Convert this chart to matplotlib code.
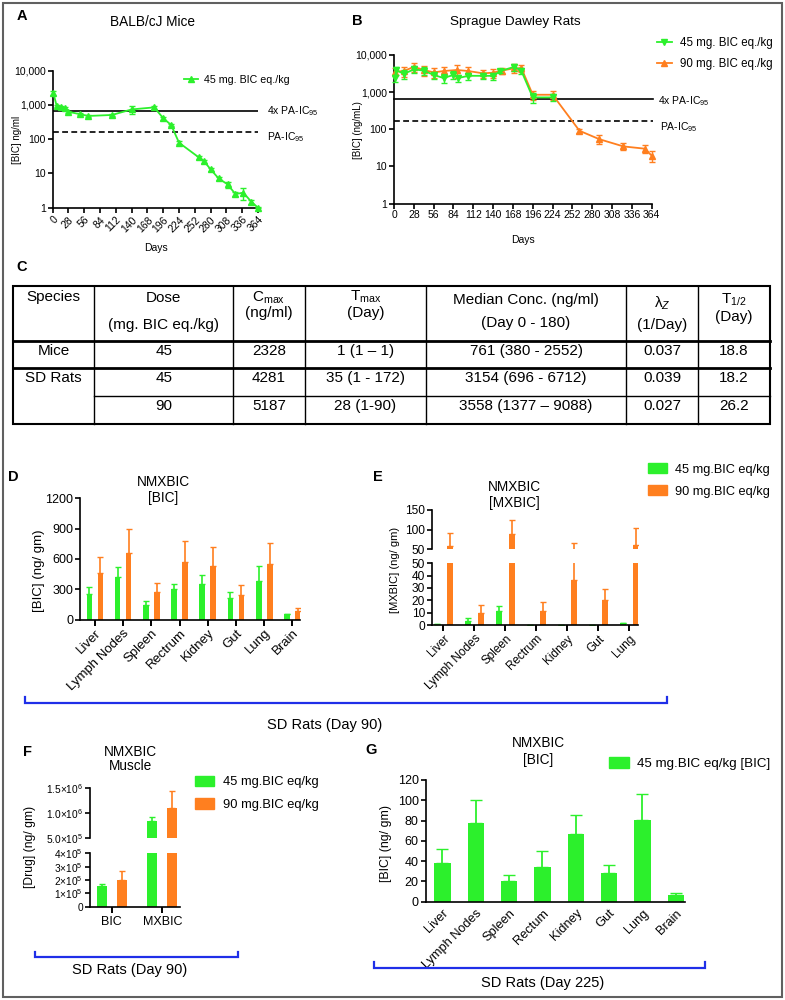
import numpy as np
import matplotlib
matplotlib.use("Agg")
import matplotlib.pyplot as plt
from matplotlib.lines import Line2D
from matplotlib.patches import Patch, Rectangle
from matplotlib import font_manager as fm

W, H = 785, 1000


def has_font(name):
    try:
        fm.findfont(fm.FontProperties(family=name), fallback_to_default=False)
        return True
    except Exception:
        return False


BASE = "Liberation Sans" if has_font("Liberation Sans") else "DejaVu Sans"
plt.rcParams["font.family"] = [BASE, "DejaVu Sans"]
plt.rcParams["mathtext.fontset"] = "custom"
plt.rcParams["mathtext.rm"] = BASE
plt.rcParams["mathtext.it"] = BASE + ":italic"
plt.rcParams["mathtext.bf"] = BASE + ":bold"
plt.rcParams["axes.linewidth"] = 1.2

GREEN = "#2cf02c"
ORANGE = "#ff7f1f"
BLUE = "#1f2fe8"

# ---- A: BALB/cJ mice, 45 mg BIC eq./kg
mice_days = [1, 7, 14, 21, 28, 49, 63, 105, 140, 180, 196, 210, 224, 259, 268, 280, 294, 310, 324, 338, 352, 364]
mice_conc = [2300, 940, 850, 795, 630, 535, 477, 510, 740, 850, 410, 260, 79, 29.5, 23, 13.2, 7.2, 4.8, 2.5, 2.75, 1.5, 1.0]
mice_err = [300, 80, 70, 60, 50, 40, 40, 40, 200, 80, 40, 25, 8, 3, 2.5, 1.5, 0.8, 1.0, 0.3, 1.1, 0.2, 0.05]

# ---- B: SD rats
rat45_days = [1, 3, 14, 28, 42, 56, 70, 84, 91, 105, 126, 140, 150, 170, 180, 196, 224]
rat45_conc = [2350, 3900, 3100, 4100, 3800, 2900, 2400, 2900, 2400, 2750, 2750, 2750, 3700, 4800, 3700, 720, 720]
rat45_err = [500, 1000, 800, 900, 900, 600, 600, 700, 500, 600, 500, 600, 500, 1000, 700, 200, 150]
rat90_days = [1, 14, 28, 42, 56, 70, 89, 105, 126, 140, 152, 170, 180, 196, 224, 262, 290, 324, 354, 364]
rat90_conc = [3550, 3700, 4800, 3950, 3400, 3700, 3950, 3700, 3200, 3350, 3800, 4400, 4400, 850, 850, 91, 54, 34.5, 30, 19.5]
rat90_err = [900, 1100, 1300, 1200, 1000, 1200, 1500, 1000, 800, 900, 800, 1200, 1000, 250, 250, 12, 14, 7, 7, 6]

ic95_4x = 650
ic95 = 165
day_ticks = list(range(0, 365, 28))
log_ticks = [1, 10, 100, 1000, 10000]
log_labels = ["1", "10", "100", "1,000", "10,000"]

# ---- C: PK table
tbl_head1 = ["Species", "Dose", "C$_{\\mathrm{max}}$", "T$_{\\mathrm{max}}$", "Median Conc. (ng/ml)", "λ$_Z$", "T$_{1/2}$"]
tbl_head2 = ["", "(mg. BIC eq./kg)", "(ng/ml)", "(Day)", "(Day 0 - 180)", "(1/Day)", "(Day)"]
tbl_species = ["Mice", "SD Rats", ""]
tbl_dose = ["45", "45", "90"]
tbl_cmax = ["2328", "4281", "5187"]
tbl_tmax = ["1 (1 – 1)", "35 (1 - 172)", "28 (1-90)"]
tbl_median = ["761 (380 - 2552)", "3154 (696 - 6712)", "3558 (1377 – 9088)"]
tbl_lambda = ["0.037", "0.039", "0.027"]
tbl_thalf = ["18.8", "18.2", "26.2"]

# ---- D: [BIC] tissues day 90
tissues_d = ["Liver", "Lymph Nodes", "Spleen", "Rectrum", "Kidney", "Gut", "Lung", "Brain"]
d_bic_45 = [251, 417, 142, 301, 350, 215, 383, 50]
d_bic_45_sd = [73, 105, 43, 46, 86, 56, 146, 8]
d_bic_90 = [456, 655, 271, 565, 529, 241, 549, 83]
d_bic_90_sd = [159, 241, 93, 212, 185, 103, 205, 26]

# ---- E: [MXBIC] tissues day 90
tissues_e = ["Liver", "Lymph Nodes", "Spleen", "Rectrum", "Kidney", "Gut", "Lung"]
e_mx_45 = [0.8, 3.5, 11.2, 0, 0, 0, 1.9]
e_mx_45_sd = [0, 1.8, 4.0, 0, 0, 0, 0]
e_mx_90 = [58.4, 9.9, 87.8, 11.2, 36.1, 20.0, 61.8]
e_mx_90_sd = [33.6, 6.7, 35.2, 7.8, 29.9, 9.4, 42.8]

# ---- F: muscle
f_cats = ["BIC", "MXBIC"]
f_45 = [1.55e5, 8.5e5]
f_45_sd = [0.13e5, 0.8e5]
f_90 = [2.0e5, 1.1e6]
f_90_sd = [0.68e5, 0.35e6]

# ---- G: [BIC] tissues day 225
tissues_g = ["Liver", "Lymph Nodes", "Spleen", "Rectum", "Kidney", "Gut", "Lung", "Brain"]
g_bic_45 = [37.8, 77.3, 20.1, 34.5, 66.4, 27.9, 80.5, 6.6]
g_bic_45_sd = [14.5, 23.3, 6.5, 15.1, 19.1, 8.6, 25.7, 2.3]

fig = plt.figure(figsize=(W / 100, H / 100), dpi=100)


def add_ax(l, t, r, b):
    return fig.add_axes([l / W, 1 - b / H, (r - l) / W, (b - t) / H])


def ftext(x, y, s, **kw):
    kw.setdefault("ha", "center")
    kw.setdefault("va", "center")
    fig.text(x / W, 1 - y / H, s, **kw)


def fline(xs, ys, **kw):
    fig.add_artist(Line2D([x / W for x in xs], [1 - y / H for y in ys], **kw))


def style(ax, fs):
    for s in ["top", "right"]:
        ax.spines[s].set_visible(False)
    ax.tick_params(direction="out", length=3.5, width=1.2, labelsize=fs, pad=1.5, colors="black")


def bracket(x0, x1, y, up=6):
    fline([x0, x0, x1, x1], [y - up, y, y, y - up], color=BLUE, lw=1.6, solid_joinstyle="miter")


# outer frame
fig.add_artist(Rectangle((3 / W, 3 / H), 779 / W, 994 / H, fill=False, ec="#606060", lw=1.5))

# ================= A
axA = add_ax(52.7, 70.7, 258, 207.7)
axA.set_yscale("log")
axA.axhline(ic95_4x, color="black", lw=1.2)
axA.axhline(ic95, color="black", lw=1.2, ls=(0, (3.5, 2)))
axA.errorbar(mice_days, mice_conc, yerr=mice_err, color=GREEN, marker="^", ms=4, lw=1.3,
             capsize=2, elinewidth=1, clip_on=False, zorder=3)
axA.set_ylim(1, 10000)
axA.set_xlim(0, 364)
axA.set_yticks(log_ticks)
axA.set_yticklabels(log_labels)
axA.minorticks_off()
axA.set_xticks(day_ticks)
axA.set_xticklabels(day_ticks, rotation=45, ha="right", rotation_mode="anchor")
style(axA, 7.5)
ftext(156, 248, "Days", fontsize=7.5)
ftext(17, 140, "[BIC] ng/ml", fontsize=7, rotation=90)
ftext(267, 111, "4x PA-IC$_{95}$", fontsize=7.5, ha="left")
ftext(267, 137, "PA-IC$_{95}$", fontsize=7.5, ha="left")
ftext(152, 22, "BALB/cJ Mice", fontsize=9.8)
ftext(22, 16, "A", fontsize=10.5, fontweight="bold")
fig.legend([Line2D([], [], color=GREEN, marker="^", ms=4, lw=1.3)], ["45 mg. BIC eq./kg"],
           loc="center left", bbox_to_anchor=(184 / W, 1 - 80 / H), frameon=False, fontsize=7.7,
           handlelength=1.3, handletextpad=0.6, borderpad=0, borderaxespad=0)

# ================= B
axB = add_ax(394, 55, 651.7, 203.5)
axB.set_yscale("log")
axB.axhline(ic95_4x, color="black", lw=1.2, xmax=1.005, clip_on=False)
axB.axhline(ic95, color="black", lw=1.2, ls=(0, (3.5, 2)), xmax=1.005, clip_on=False)
axB.errorbar(rat90_days, rat90_conc, yerr=rat90_err, color=ORANGE, marker="^", ms=4, lw=1.3,
             capsize=2.2, elinewidth=1, clip_on=False, zorder=3)
axB.errorbar(rat45_days, rat45_conc, yerr=rat45_err, color=GREEN, marker="v", ms=5, lw=1.3,
             capsize=2.2, elinewidth=1, clip_on=False, zorder=4)
axB.set_ylim(1, 10000)
axB.set_xlim(0, 364)
axB.set_yticks(log_ticks)
axB.set_yticklabels(log_labels)
axB.minorticks_off()
axB.set_xticks(day_ticks)
style(axB, 7.5)
ftext(523, 240, "Days", fontsize=7.5)
ftext(358, 130, "[BIC] (ng/mL)", fontsize=7, rotation=90)
ftext(658, 101, "4x PA-IC$_{95}$", fontsize=7.5, ha="left")
ftext(660, 127, "PA-IC$_{95}$", fontsize=7.5, ha="left")
ftext(515, 22, "Sprague Dawley Rats", fontsize=9.7)
ftext(357, 21, "B", fontsize=10.5, fontweight="bold")
fig.legend([Line2D([], [], color=GREEN, marker="v", ms=5, lw=1.3),
            Line2D([], [], color=ORANGE, marker="^", ms=4, lw=1.3)],
           ["45 mg. BIC eq./kg", "90 mg. BIC eq./kg"],
           loc="center left", bbox_to_anchor=(657 / W, 1 - 53.5 / H), frameon=False, fontsize=8.3,
           handlelength=1.3, handletextpad=0.7, labelspacing=0.75, borderpad=0, borderaxespad=0)

# ================= C table
ftext(22, 267, "C", fontsize=10.5, fontweight="bold")
col_edges = [13.3, 94.3, 233, 305, 426, 626, 698, 770]
row_edges = [286, 340.7, 367.7, 396, 424.3]
fig.add_artist(Rectangle((13.3 / W, 1 - 424.3 / H), (770 - 13.3) / W, (424.3 - 286) / H,
                         fill=False, ec="black", lw=1.5))
for x in col_edges[1:-1]:
    fline([x, x], [286, 424.3], color="black", lw=1)
fline([13.3, 770], [340.7, 340.7], color="black", lw=2)
fline([13.3, 770], [367.7, 367.7], color="black", lw=2)
fline([94.3, 770], [396, 396], color="black", lw=1)
col_mid = [(a + b) / 2 for a, b in zip(col_edges[:-1], col_edges[1:])]
head1_y = [297, 298, 298, 297, 300, 303, 300]
head2_y = [0, 325, 313, 313, 323, 325, 317]
TFS = 11
for i in range(7):
    ftext(col_mid[i], head1_y[i], tbl_head1[i], fontsize=TFS)
    if tbl_head2[i]:
        ftext(col_mid[i], head2_y[i], tbl_head2[i], fontsize=TFS)
body_y = [351, 378, 406]
for r in range(3):
    row = [tbl_species[r], tbl_dose[r], tbl_cmax[r], tbl_tmax[r], tbl_median[r], tbl_lambda[r], tbl_thalf[r]]
    for i, s in enumerate(row):
        if s:
            ftext(col_mid[i], body_y[r], s, fontsize=TFS)

# ================= D
axD = add_ax(80, 498.3, 300, 619.5)
xd = np.arange(len(tissues_d))
off, bw = 0.195, 0.2
axD.bar(xd - off, d_bic_45, bw, color=GREEN)
axD.bar(xd + off, d_bic_90, bw, color=ORANGE)
axD.errorbar(xd - off, d_bic_45, yerr=[np.zeros(len(xd)), d_bic_45_sd], fmt="none", ecolor=GREEN,
             elinewidth=1.2, capsize=2)
axD.errorbar(xd + off, d_bic_90, yerr=[np.zeros(len(xd)), d_bic_90_sd], fmt="none", ecolor=ORANGE,
             elinewidth=1.2, capsize=2)
axD.set_ylim(0, 1200)
axD.set_yticks([0, 300, 600, 900, 1200])
axD.set_xlim(-0.53, 7.27)
axD.set_xticks(xd)
axD.set_xticklabels(tissues_d, rotation=45, ha="right", rotation_mode="anchor")
style(axD, 9)
axD.tick_params(axis="x", length=4, width=1.4, labelsize=9.5)
ftext(163, 482, "NMXBIC", fontsize=9.8)
ftext(163, 498, "[BIC]", fontsize=9.8)
ftext(39, 571, "[BIC] (ng/ gm)", fontsize=9.5, rotation=90)
ftext(13, 477, "D", fontsize=10.5, fontweight="bold")

# ================= E (broken axis)
axE_lo = add_ax(432, 563.3, 638, 625)
axE_hi = add_ax(432, 509.7, 638, 549.3)
xe = np.arange(len(tissues_e))
off_e, bw_e = 0.2, 0.195
for ax in (axE_lo, axE_hi):
    ax.bar(xe - off_e, e_mx_45, bw_e, color=GREEN)
    ax.bar(xe + off_e, e_mx_90, bw_e, color=ORANGE)
    ax.errorbar(xe - off_e, e_mx_45, yerr=[np.zeros(len(xe)), e_mx_45_sd], fmt="none", ecolor=GREEN,
                elinewidth=1.2, capsize=2)
    ax.errorbar(xe + off_e, e_mx_90, yerr=[np.zeros(len(xe)), e_mx_90_sd], fmt="none", ecolor=ORANGE,
                elinewidth=1.2, capsize=2)
    ax.set_xlim(-0.37, 6.28)
    style(ax, 8.6)
axE_lo.set_ylim(0, 50)
axE_lo.set_yticks([0, 10, 20, 30, 40, 50])
axE_lo.set_xticks(xe)
axE_lo.set_xticklabels(tissues_e, rotation=45, ha="right", rotation_mode="anchor")
axE_lo.tick_params(axis="x", length=4, width=1.4, labelsize=8.5)
axE_hi.set_ylim(50, 150)
axE_hi.set_yticks([50, 100, 150])
axE_hi.spines["bottom"].set_visible(False)
axE_hi.tick_params(axis="x", bottom=False, labelbottom=False)
ftext(514, 487, "NMXBIC", fontsize=9.8)
ftext(514, 503, "[MXBIC]", fontsize=9.8)
ftext(395, 570, "[MXBIC] (ng/ gm)", fontsize=8, rotation=90)
ftext(378, 477, "E", fontsize=10.5, fontweight="bold")
fig.legend([Patch(color=GREEN), Patch(color=ORANGE)], ["45 mg.BIC eq/kg", "90 mg.BIC eq/kg"],
           loc="center left", bbox_to_anchor=(648 / W, 1 - 480.5 / H), frameon=False, fontsize=9.2,
           handlelength=1.5, handleheight=0.85, handletextpad=0.65, labelspacing=0.75,
           borderpad=0, borderaxespad=0)

bracket(25, 667, 703)
ftext(325, 725, "SD Rats (Day 90)", fontsize=10.5)

# ================= F (broken axis)
axF_lo = add_ax(90, 853.3, 180, 906.7)
axF_hi = add_ax(90, 788.3, 180, 838.3)
xf = np.arange(len(f_cats))
off_f, bw_f = 0.2, 0.2
for ax in (axF_lo, axF_hi):
    ax.bar(xf - off_f, f_45, bw_f, color=GREEN)
    ax.bar(xf + off_f, f_90, bw_f, color=ORANGE)
    ax.errorbar(xf - off_f, f_45, yerr=[np.zeros(2), f_45_sd], fmt="none", ecolor=GREEN,
                elinewidth=1.2, capsize=2)
    ax.errorbar(xf + off_f, f_90, yerr=[np.zeros(2), f_90_sd], fmt="none", ecolor=ORANGE,
                elinewidth=1.2, capsize=2)
    ax.set_xlim(-0.43, 1.35)
    style(ax, 7.3)
axF_lo.set_ylim(0, 4e5)
axF_lo.set_yticks([0, 1e5, 2e5, 3e5, 4e5])
axF_lo.set_yticklabels(["0", "1×10$^5$", "2×10$^5$", "3×10$^5$", "4×10$^5$"])
axF_lo.set_xticks(xf)
axF_lo.set_xticklabels(f_cats)
axF_lo.tick_params(axis="x", length=4, width=1.4, labelsize=9, pad=3)
axF_hi.set_ylim(5e5, 1.5e6)
axF_hi.set_yticks([5e5, 1e6, 1.5e6])
axF_hi.set_yticklabels(["5.0×10$^5$", "1.0×10$^6$", "1.5×10$^6$"])
axF_hi.spines["bottom"].set_visible(False)
axF_hi.tick_params(axis="x", bottom=False, labelbottom=False)
ftext(130, 752, "NMXBIC", fontsize=9.8)
ftext(130, 766, "Muscle", fontsize=9.8)
ftext(30, 847, "[Drug] (ng/ gm)", fontsize=8.7, rotation=90)
ftext(27, 752, "F", fontsize=10.5, fontweight="bold")
fig.legend([Patch(color=GREEN), Patch(color=ORANGE)], ["45 mg.BIC eq/kg", "90 mg.BIC eq/kg"],
           loc="center left", bbox_to_anchor=(195 / W, 1 - 793.3 / H), frameon=False, fontsize=9.3,
           handlelength=1.45, handleheight=0.9, handletextpad=0.7, labelspacing=0.75,
           borderpad=0, borderaxespad=0)
bracket(35, 238, 956.7, up=5)
ftext(130, 970, "SD Rats (Day 90)", fontsize=10.5)

# ================= G
axG = add_ax(425.7, 780, 685, 901.7)
xg = np.arange(len(tissues_g))
axG.bar(xg, g_bic_45, 0.49, color=GREEN)
axG.errorbar(xg, g_bic_45, yerr=[np.zeros(len(xg)), g_bic_45_sd], fmt="none", ecolor=GREEN,
             elinewidth=1.3, capsize=4)
axG.set_ylim(0, 120)
axG.set_yticks(range(0, 121, 20))
axG.set_xlim(-0.5, 7.28)
axG.set_xticks(xg)
axG.set_xticklabels(tissues_g, rotation=45, ha="right", rotation_mode="anchor")
style(axG, 9)
axG.tick_params(axis="x", length=0, labelsize=9.2, pad=4)
ftext(538, 743, "NMXBIC", fontsize=9.8)
ftext(538, 760, "[BIC]", fontsize=9.8)
ftext(386, 843, "[BIC] (ng/ gm)", fontsize=8.9, rotation=90)
ftext(371, 750, "G", fontsize=10.5, fontweight="bold")
fig.legend([Patch(color=GREEN)], ["45 mg.BIC eq/kg [BIC]"],
           loc="center left", bbox_to_anchor=(609 / W, 1 - 763.3 / H), frameon=False, fontsize=9.6,
           handlelength=1.5, handleheight=0.9, handletextpad=0.6, borderpad=0, borderaxespad=0)
bracket(374.3, 705, 968.3, up=6)
ftext(543, 983, "SD Rats (Day 225)", fontsize=10.5)

fig.savefig("out.png", dpi=100)
